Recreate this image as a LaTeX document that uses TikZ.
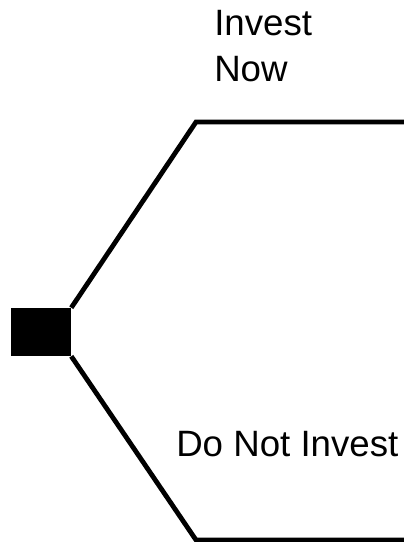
\documentclass[tikz,border=0pt]{standalone}
\usepackage{fontspec}
\setmainfont{Liberation Sans}
\begin{document}
\begin{tikzpicture}[x=0.75pt,y=-0.75pt,
  branch/.style={draw=black,line width=3.6pt},
  lbl/.style={inner sep=0pt,font=\fontsize{27.5pt}{33.75pt}\selectfont,text=black},
  decision/.style={fill=black,draw=none,minimum width=45pt,minimum height=36pt,inner sep=0pt}]
\useasboundingbox (0,0) rectangle (403,542);
\node[decision] (d) at (41,332) {};
\coordinate (t1) at (196,122);
\coordinate (t2) at (410,122);
\coordinate (b1) at (196,540);
\coordinate (b2) at (410,540);
\draw[branch] (d.north east) -- (t1) -- (t2);
\draw[branch] (d.south east) -- (b1) -- (b2);
\node[lbl,anchor=base west,align=left] (inv) at (214,81) {Invest\\Now};
\node[lbl,anchor=base west] (dni) at (176,456) {Do Not Invest};
\end{tikzpicture}
\end{document}
